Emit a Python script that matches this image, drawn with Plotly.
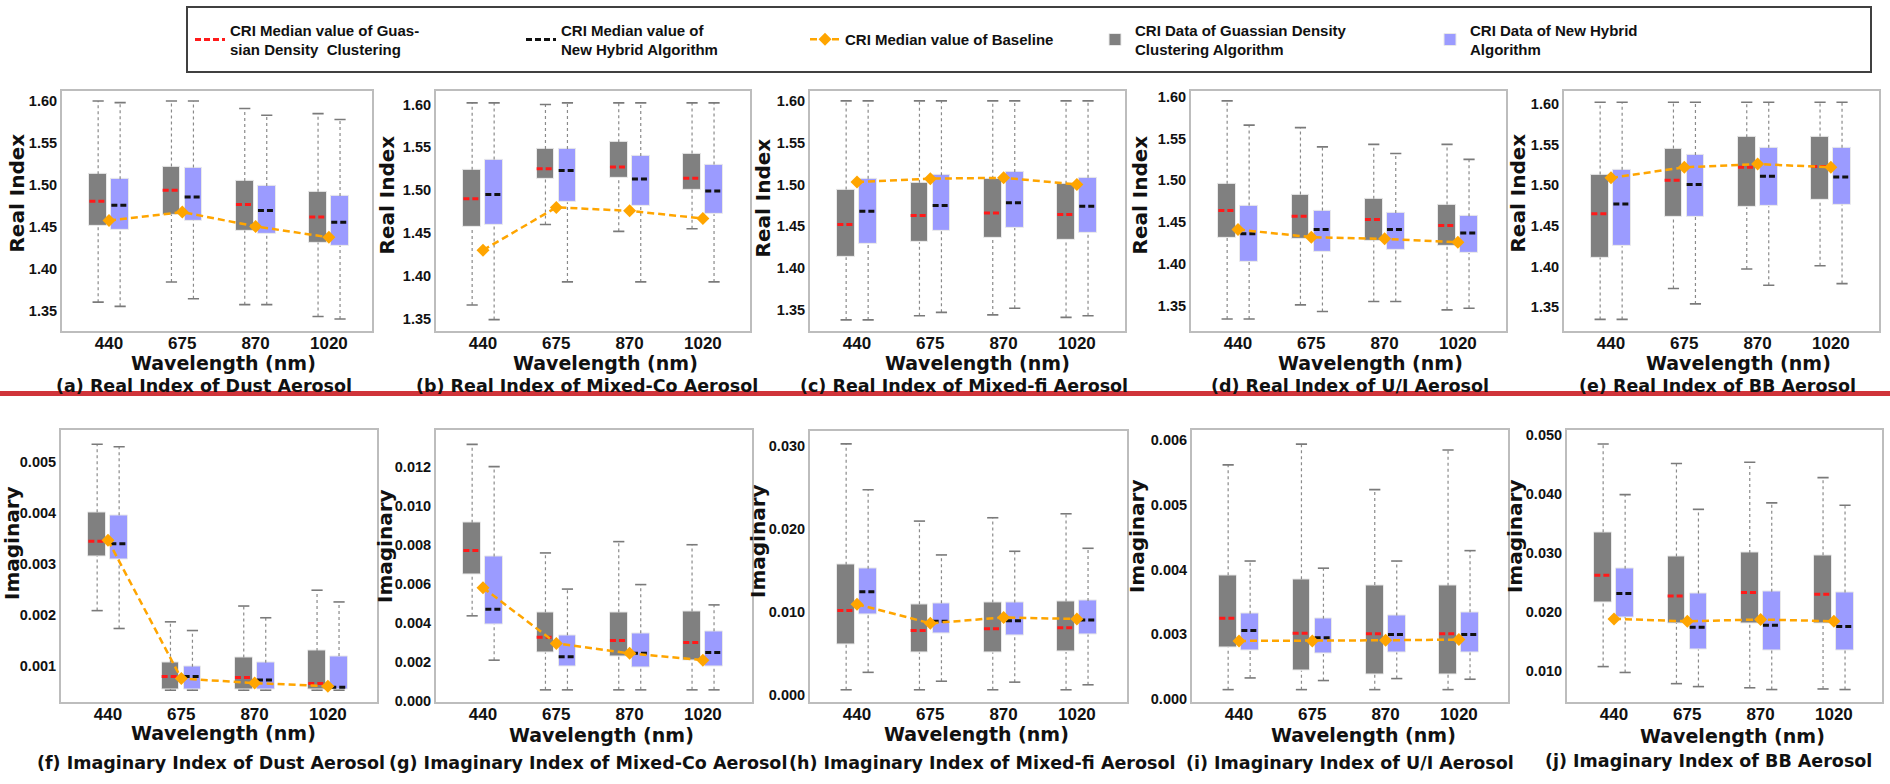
import plotly.graph_objects as go

W, H = 1890, 784

wavelengths = ["440", "675", "870", "1020"]
cat_pos = [0, 1, 2, 3]

# ---------------- (a) Real Index, Dust ----------------
a_gdc_lo  = [1.361, 1.385, 1.358, 1.344]
a_gdc_q1  = [1.452, 1.465, 1.446, 1.432]
a_gdc_med = [1.481, 1.494, 1.477, 1.462]
a_gdc_q3  = [1.513, 1.522, 1.505, 1.492]
a_gdc_hi  = [1.600, 1.600, 1.591, 1.585]
a_hyb_lo  = [1.356, 1.365, 1.358, 1.341]
a_hyb_q1  = [1.447, 1.458, 1.442, 1.428]
a_hyb_med = [1.476, 1.486, 1.470, 1.456]
a_hyb_q3  = [1.507, 1.521, 1.499, 1.487]
a_hyb_hi  = [1.598, 1.600, 1.583, 1.578]
a_base    = [1.458, 1.468, 1.451, 1.438]

# ---------------- (b) Real Index, Mixed-Co ----------------
b_gdc_lo  = [1.366, 1.460, 1.452, 1.455]
b_gdc_q1  = [1.457, 1.513, 1.514, 1.501]
b_gdc_med = [1.490, 1.525, 1.527, 1.514]
b_gdc_q3  = [1.524, 1.548, 1.556, 1.543]
b_gdc_hi  = [1.602, 1.600, 1.602, 1.602]
b_hyb_lo  = [1.349, 1.393, 1.393, 1.393]
b_hyb_q1  = [1.460, 1.486, 1.482, 1.472]
b_hyb_med = [1.495, 1.523, 1.513, 1.499]
b_hyb_q3  = [1.536, 1.548, 1.540, 1.530]
b_hyb_hi  = [1.602, 1.602, 1.602, 1.602]
b_base    = [1.430, 1.480, 1.476, 1.467]

# ---------------- (c) Real Index, Mixed-fi ----------------
c_gdc_lo  = [1.338, 1.343, 1.344, 1.341]
c_gdc_q1  = [1.413, 1.431, 1.436, 1.434]
c_gdc_med = [1.452, 1.463, 1.466, 1.464]
c_gdc_q3  = [1.494, 1.502, 1.507, 1.501]
c_gdc_hi  = [1.600, 1.600, 1.600, 1.600]
c_hyb_lo  = [1.338, 1.347, 1.352, 1.343]
c_hyb_q1  = [1.429, 1.445, 1.448, 1.442]
c_hyb_med = [1.468, 1.475, 1.478, 1.474]
c_hyb_q3  = [1.507, 1.511, 1.515, 1.508]
c_hyb_hi  = [1.600, 1.600, 1.600, 1.600]
c_base    = [1.503, 1.507, 1.508, 1.500]

# ---------------- (d) Real Index, U/I ----------------
d_gdc_lo  = [1.334, 1.351, 1.355, 1.345]
d_gdc_q1  = [1.431, 1.430, 1.428, 1.421]
d_gdc_med = [1.464, 1.457, 1.453, 1.446]
d_gdc_q3  = [1.496, 1.483, 1.478, 1.471]
d_gdc_hi  = [1.595, 1.563, 1.543, 1.543]
d_hyb_lo  = [1.334, 1.343, 1.355, 1.347]
d_hyb_q1  = [1.403, 1.414, 1.417, 1.413]
d_hyb_med = [1.436, 1.441, 1.441, 1.437]
d_hyb_q3  = [1.470, 1.464, 1.461, 1.457]
d_hyb_hi  = [1.566, 1.540, 1.532, 1.525]
d_base    = [1.441, 1.432, 1.430, 1.426]

# ---------------- (e) Real Index, BB ----------------
e_gdc_lo  = [1.335, 1.373, 1.397, 1.401]
e_gdc_q1  = [1.411, 1.461, 1.473, 1.482]
e_gdc_med = [1.465, 1.506, 1.522, 1.523]
e_gdc_q3  = [1.513, 1.545, 1.559, 1.560]
e_gdc_hi  = [1.602, 1.602, 1.602, 1.602]
e_hyb_lo  = [1.335, 1.354, 1.377, 1.379]
e_hyb_q1  = [1.425, 1.461, 1.474, 1.476]
e_hyb_med = [1.477, 1.501, 1.511, 1.510]
e_hyb_q3  = [1.519, 1.537, 1.546, 1.546]
e_hyb_hi  = [1.602, 1.602, 1.602, 1.602]
e_base    = [1.509, 1.522, 1.526, 1.522]

# ---------------- (f) Imaginary Index, Dust ----------------
f_gdc_lo  = [0.00208, 0.00052, 0.00052, 0.00052]
f_gdc_q1  = [0.00315, 0.00054, 0.00053, 0.00053]
f_gdc_med = [0.00344, 0.00079, 0.00077, 0.00065]
f_gdc_q3  = [0.00401, 0.00106, 0.00116, 0.00129]
f_gdc_hi  = [0.00534, 0.00186, 0.00217, 0.00248]
f_hyb_lo  = [0.00173, 0.00052, 0.00052, 0.00052]
f_hyb_q1  = [0.00308, 0.00053, 0.00053, 0.00053]
f_hyb_med = [0.00339, 0.00079, 0.00072, 0.00058]
f_hyb_q3  = [0.00395, 0.00098, 0.00106, 0.00119]
f_hyb_hi  = [0.00529, 0.00169, 0.00194, 0.00225]
f_base    = [0.00346, 0.00075, 0.00066, 0.00060]

# ---------------- (g) Imaginary Index, Mixed-Co ----------------
g_gdc_lo  = [0.00436, 0.00057, 0.00057, 0.00057]
g_gdc_q1  = [0.00649, 0.00248, 0.00226, 0.00206]
g_gdc_med = [0.00770, 0.00327, 0.00310, 0.00300]
g_gdc_q3  = [0.00913, 0.00455, 0.00455, 0.00458]
g_gdc_hi  = [0.01314, 0.00758, 0.00816, 0.00800]
g_hyb_lo  = [0.00209, 0.00057, 0.00057, 0.00057]
g_hyb_q1  = [0.00394, 0.00177, 0.00172, 0.00179]
g_hyb_med = [0.00470, 0.00226, 0.00244, 0.00248]
g_hyb_q3  = [0.00740, 0.00337, 0.00347, 0.00357]
g_hyb_hi  = [0.01200, 0.00573, 0.00596, 0.00492]
g_base    = [0.00580, 0.00295, 0.00244, 0.00209]

# ---------------- (h) Imaginary Index, Mixed-fi ----------------
h_gdc_lo  = [0.00067, 0.00067, 0.00067, 0.00067]
h_gdc_q1  = [0.00614, 0.00515, 0.00515, 0.00523]
h_gdc_med = [0.01023, 0.00781, 0.00801, 0.00813]
h_gdc_q3  = [0.01574, 0.01098, 0.01118, 0.01130]
h_gdc_hi  = [0.03030, 0.02100, 0.02140, 0.02188]
h_hyb_lo  = [0.00277, 0.00170, 0.00159, 0.00127]
h_hyb_q1  = [0.00979, 0.00741, 0.00725, 0.00733]
h_hyb_med = [0.01248, 0.00892, 0.00900, 0.00908]
h_hyb_q3  = [0.01526, 0.01110, 0.01118, 0.01138]
h_hyb_hi  = [0.02477, 0.01692, 0.01736, 0.01772]
h_base    = [0.01098, 0.00868, 0.00939, 0.00920]

# ---------------- (i) Imaginary Index, U/I ----------------
i_gdc_lo  = [0.00215, 0.00215, 0.00215, 0.00215]
i_gdc_q1  = [0.00280, 0.00244, 0.00238, 0.00238]
i_gdc_med = [0.00325, 0.00302, 0.00301, 0.00301]
i_gdc_q3  = [0.00391, 0.00385, 0.00376, 0.00375]
i_gdc_hi  = [0.00561, 0.00593, 0.00523, 0.00584]
i_hyb_lo  = [0.00233, 0.00229, 0.00232, 0.00231]
i_hyb_q1  = [0.00276, 0.00270, 0.00272, 0.00272]
i_hyb_med = [0.00306, 0.00295, 0.00300, 0.00300]
i_hyb_q3  = [0.00332, 0.00324, 0.00329, 0.00334]
i_hyb_hi  = [0.00413, 0.00402, 0.00413, 0.00429]
i_base    = [0.00290, 0.00290, 0.00291, 0.00292]

# ---------------- (j) Imaginary Index, BB ----------------
j_gdc_lo  = [0.0107, 0.0078, 0.0071, 0.0069]
j_gdc_q1  = [0.0216, 0.0181, 0.0181, 0.0181]
j_gdc_med = [0.0262, 0.0227, 0.0233, 0.0230]
j_gdc_q3  = [0.0335, 0.0294, 0.0300, 0.0296]
j_gdc_hi  = [0.0485, 0.0452, 0.0454, 0.0428]
j_hyb_lo  = [0.0097, 0.0073, 0.0068, 0.0068]
j_hyb_q1  = [0.0191, 0.0136, 0.0135, 0.0135]
j_hyb_med = [0.0231, 0.0174, 0.0177, 0.0175]
j_hyb_q3  = [0.0273, 0.0231, 0.0234, 0.0233]
j_hyb_hi  = [0.0399, 0.0374, 0.0385, 0.0381]
j_base    = [0.0188, 0.0184, 0.0187, 0.0184]

# tick labels
real_ticks = [1.35, 1.40, 1.45, 1.50, 1.55, 1.60]
f_ticks = [0.001, 0.002, 0.003, 0.004, 0.005]
g_ticks = [0.000, 0.002, 0.004, 0.006, 0.008, 0.010, 0.012]
h_ticks = [0.000, 0.010, 0.020, 0.030]
i_tickvals = [0.002, 0.003, 0.004, 0.005, 0.006]
i_ticktext = ["0.000", "0.003", "0.004", "0.005", "0.006"]
j_ticks = [0.010, 0.020, 0.030, 0.040, 0.050]

captions = [
    "(a) Real Index of Dust Aerosol", "(b) Real Index of Mixed-Co Aerosol",
    "(c) Real Index of Mixed-fi Aerosol", "(d) Real Index of U/I Aerosol",
    "(e) Real Index of BB Aerosol",
    "(f) Imaginary Index of Dust Aerosol", "(g) Imaginary Index of Mixed-Co Aerosol",
    "(h) Imaginary Index of Mixed-fi Aerosol", "(i) Imaginary Index of U/I Aerosol",
    "(j) Imaginary Index of BB Aerosol",
]

legend_names = [
    "CRI Median value of Guas-<br>sian Density  Clustering",
    "CRI Median value of<br>New Hybrid Algorithm",
    "CRI Median value of Baseline",
    "CRI Data of Guassian Density<br>Clustering Algorithm",
    "CRI Data of New Hybrid<br>Algorithm",
]

# ---------------- layout geometry (pixels) ----------------
def S(lo, q1, med, q3, hi):
    return dict(lo=lo, q1=q1, med=med, q3=q3, hi=hi)

panels = [
    dict(gdc=S(a_gdc_lo, a_gdc_q1, a_gdc_med, a_gdc_q3, a_gdc_hi), hyb=S(a_hyb_lo, a_hyb_q1, a_hyb_med, a_hyb_q3, a_hyb_hi), base=a_base,
         xpx=(62, 372), ypx=(89, 332), yr=(1.327, 1.612), tv=real_ticks, tt=None, fmt=".2f", yt="Real Index",
         ytp=(17, 193), xtp=(223, 365), cap=(204, 388)),
    dict(gdc=S(b_gdc_lo, b_gdc_q1, b_gdc_med, b_gdc_q3, b_gdc_hi), hyb=S(b_hyb_lo, b_hyb_q1, b_hyb_med, b_hyb_q3, b_hyb_hi), base=b_base,
         xpx=(436, 750), ypx=(89, 332), yr=(1.336, 1.616), tv=real_ticks, tt=None, fmt=".2f", yt="Real Index",
         ytp=(387, 195), xtp=(605, 365), cap=(587, 388)),
    dict(gdc=S(c_gdc_lo, c_gdc_q1, c_gdc_med, c_gdc_q3, c_gdc_hi), hyb=S(c_hyb_lo, c_hyb_q1, c_hyb_med, c_hyb_q3, c_hyb_hi), base=c_base,
         xpx=(810, 1125), ypx=(89, 332), yr=(1.325, 1.612), tv=real_ticks, tt=None, fmt=".2f", yt="Real Index",
         ytp=(763, 198), xtp=(977, 365), cap=(964, 388)),
    dict(gdc=S(d_gdc_lo, d_gdc_q1, d_gdc_med, d_gdc_q3, d_gdc_hi), hyb=S(d_hyb_lo, d_hyb_q1, d_hyb_med, d_hyb_q3, d_hyb_hi), base=d_base,
         xpx=(1191, 1506), ypx=(89, 332), yr=(1.320, 1.607), tv=real_ticks, tt=None, fmt=".2f", yt="Real Index",
         ytp=(1140, 195), xtp=(1370, 365), cap=(1350, 388)),
    dict(gdc=S(e_gdc_lo, e_gdc_q1, e_gdc_med, e_gdc_q3, e_gdc_hi), hyb=S(e_hyb_lo, e_hyb_q1, e_hyb_med, e_hyb_q3, e_hyb_hi), base=e_base,
         xpx=(1564, 1879), ypx=(89, 332), yr=(1.321, 1.616), tv=real_ticks, tt=None, fmt=".2f", yt="Real Index",
         ytp=(1518, 193), xtp=(1738, 365), cap=(1717, 388)),
    dict(gdc=S(f_gdc_lo, f_gdc_q1, f_gdc_med, f_gdc_q3, f_gdc_hi), hyb=S(f_hyb_lo, f_hyb_q1, f_hyb_med, f_hyb_q3, f_hyb_hi), base=f_base,
         xpx=(61, 377), ypx=(433, 708), yr=(0.00029, 0.00561), tv=f_ticks, tt=None, fmt=".3f", yt="Imaginary",
         ytp=(12, 547), xtp=(223, 739), cap=(211, 770)),
    dict(gdc=S(g_gdc_lo, g_gdc_q1, g_gdc_med, g_gdc_q3, g_gdc_hi), hyb=S(g_hyb_lo, g_hyb_q1, g_hyb_med, g_hyb_q3, g_hyb_hi), base=g_base,
         xpx=(436, 752), ypx=(433, 708), yr=(-0.00005, 0.01385), tv=g_ticks, tt=None, fmt=".3f", yt="Imaginary",
         ytp=(385, 550), xtp=(601, 741), cap=(588, 770)),
    dict(gdc=S(h_gdc_lo, h_gdc_q1, h_gdc_med, h_gdc_q3, h_gdc_hi), hyb=S(h_hyb_lo, h_hyb_q1, h_hyb_med, h_hyb_q3, h_hyb_hi), base=h_base,
         xpx=(810, 1127), ypx=(434, 708), yr=(-0.0008, 0.0318), tv=h_ticks, tt=None, fmt=".3f", yt="Imaginary",
         ytp=(758, 545), xtp=(976, 740), cap=(982, 770)),
    dict(gdc=S(i_gdc_lo, i_gdc_q1, i_gdc_med, i_gdc_q3, i_gdc_hi), hyb=S(i_hyb_lo, i_hyb_q1, i_hyb_med, i_hyb_q3, i_hyb_hi), base=i_base,
         xpx=(1192, 1508), ypx=(433, 708), yr=(0.00196, 0.00614), tv=i_tickvals, tt=i_ticktext, fmt=".3f", yt="Imaginary",
         ytp=(1137, 540), xtp=(1363, 741), cap=(1350, 770)),
    dict(gdc=S(j_gdc_lo, j_gdc_q1, j_gdc_med, j_gdc_q3, j_gdc_hi), hyb=S(j_hyb_lo, j_hyb_q1, j_hyb_med, j_hyb_q3, j_hyb_hi), base=j_base,
         xpx=(1567, 1882), ypx=(433, 708), yr=(0.00469, 0.0508), tv=j_ticks, tt=None, fmt=".3f", yt="Imaginary",
         ytp=(1515, 540), xtp=(1732, 742), cap=(1708, 768)),
]

PX_PER_CAT = 73.3
FIRST_CAT_PX = 47
GDC_OFF, HYB_OFF, BOX_W = -0.148, 0.152, 0.24

GRAY = "#808080"
BLUE = "#9b9bff"
RED = "#ff1a1a"
BLACK = "#111111"
ORANGE = "#FFA500"
WHISKER = "#8a8a8a"

TICKY_FONT = dict(family="Liberation Sans Narrow, Arial Narrow, Liberation Sans, Arial", size=14.5, color="#111", weight="bold")
TICKX_FONT = dict(family="Liberation Sans, Arial", size=17, color="#111", weight="bold")
TITLE_FONT = dict(family="DejaVu Sans", size=20, color="#111", weight="bold")
CAP_FONT = dict(family="DejaVu Sans", size=17.5, color="#111", weight="bold")
LEG_FONT = dict(family="Liberation Sans Narrow, Arial Narrow, Liberation Sans, Arial", size=15, color="#111", weight="bold")


def whisker_xy(xpos, st):
    xs, ys = [], []
    for x, lo, q1, q3, hi in zip(xpos, st["lo"], st["q1"], st["q3"], st["hi"]):
        xs += [x, x, None, x, x, None]
        ys += [lo, q1, None, q3, hi, None]
    return xs, ys


def median_xy(xpos, med, w):
    xs, ys = [], []
    for x, m in zip(xpos, med):
        xs += [x - w / 2, x + w / 2, None]
        ys += [m, m, None]
    return xs, ys


fig = go.Figure()
axes = {}
annotations = []

for k, p in enumerate(panels):
    n = "" if k == 0 else str(k + 1)
    xa, ya = "x" + n, "y" + n
    left, right = p["xpx"]
    top, bottom = p["ypx"]
    x0 = -FIRST_CAT_PX / PX_PER_CAT
    x1 = x0 + (right - left) / PX_PER_CAT
    axes["xaxis" + n] = dict(
        domain=[left / W, right / W], range=[x0, x1], anchor=ya,
        tickmode="array", tickvals=cat_pos, ticktext=wavelengths, tickfont=TICKX_FONT,
        ticklabelstandoff=-4,
        showline=True, mirror=True, linecolor="#bdbdbd", linewidth=2,
        showgrid=False, zeroline=False, ticks="", fixedrange=True,
    )
    yax = dict(
        domain=[1 - bottom / H, 1 - top / H], range=list(p["yr"]), anchor=xa,
        tickmode="array", tickvals=p["tv"], tickfont=TICKY_FONT, tickformat=p["fmt"],
        showline=True, mirror=True, linecolor="#bdbdbd", linewidth=2,
        showgrid=False, zeroline=False, ticks="", fixedrange=True,
    )
    if p["tt"] is not None:
        yax["ticktext"] = p["tt"]
    axes["yaxis" + n] = yax

    first = k == 0
    for st, off, color, mcolor, leg_bar, leg_med, nm_bar, nm_med in [
        (p["gdc"], GDC_OFF, GRAY, RED, "legend4", "legend", legend_names[3], legend_names[0]),
        (p["hyb"], HYB_OFF, BLUE, BLACK, "legend5", "legend2", legend_names[4], legend_names[1]),
    ]:
        xpos = [c + off for c in cat_pos]
        wx, wy = whisker_xy(xpos, st)
        fig.add_trace(go.Scatter(x=wx, y=wy, mode="lines", xaxis=xa, yaxis=ya,
                                 line=dict(color=WHISKER, width=1.2, dash="dot"),
                                 showlegend=False, hoverinfo="skip"))
        fig.add_trace(go.Scatter(x=xpos + xpos, y=st["lo"] + st["hi"], mode="markers", xaxis=xa, yaxis=ya,
                                 marker=dict(symbol="line-ew", size=8, line=dict(color="#7a7a7a", width=1.6)),
                                 showlegend=False, hoverinfo="skip"))
        fig.add_trace(go.Bar(x=xpos, y=[b - a for a, b in zip(st["q1"], st["q3"])], base=st["q1"],
                             width=BOX_W, xaxis=xa, yaxis=ya, name=nm_bar,
                             marker=dict(color=color, line=dict(color="#e9e9e9", width=1)),
                             showlegend=first, legend=leg_bar))
        mx, my = median_xy(xpos, st["med"], BOX_W)
        fig.add_trace(go.Scatter(x=mx, y=my, mode="lines", xaxis=xa, yaxis=ya, name=nm_med,
                                 line=dict(color=mcolor, width=3, dash="6px,3px"),
                                 showlegend=first, legend=leg_med))
    fig.add_trace(go.Scatter(x=cat_pos, y=p["base"], mode="lines+markers", xaxis=xa, yaxis=ya,
                             name=legend_names[2],
                             line=dict(color=ORANGE, width=2.5, dash="7px,4px"),
                             marker=dict(symbol="diamond", size=10, color=ORANGE),
                             showlegend=first, legend="legend3"))

    annotations.append(dict(text=p["yt"], x=p["ytp"][0] / W, y=1 - p["ytp"][1] / H, xref="paper", yref="paper",
                            textangle=-90, showarrow=False, font=TITLE_FONT, xanchor="center", yanchor="middle"))
    annotations.append(dict(text="Wavelength (nm)", x=p["xtp"][0] / W, y=1 - p["xtp"][1] / H, xref="paper", yref="paper",
                            showarrow=False, font=dict(TITLE_FONT, size=19), xanchor="center", yanchor="middle"))
    annotations.append(dict(text=captions[k], x=p["cap"][0] / W, y=1 - p["cap"][1] / H, xref="paper", yref="paper",
                            showarrow=False, font=CAP_FONT, xanchor="center", yanchor="middle"))

# legends (one per item, laid out in a single boxed row)
leg_x = [190, 521, 805, 1095, 1430]
legends = {}
for idx, lx in enumerate(leg_x):
    key = "legend" if idx == 0 else "legend%d" % (idx + 1)
    legends[key] = dict(x=lx / W, y=1 - 37 / H, xanchor="left", yanchor="middle",
                        orientation="h", bgcolor="rgba(0,0,0,0)", borderwidth=0,
                        font=LEG_FONT, valign="middle")

shapes = [
    dict(type="rect", xref="paper", yref="paper", x0=187 / W, x1=1871 / W, y0=1 - 70 / H, y1=1 - 4 / H,
         line=dict(color="#404040", width=2), fillcolor="rgba(0,0,0,0)"),
    dict(type="rect", xref="paper", yref="paper", x0=0, x1=1, y0=1 - 398 / H, y1=1 - 393 / H,
         line=dict(width=0), fillcolor="#d0343a", layer="above"),
]

fig.update_layout(
    width=W, height=H, margin=dict(l=0, r=0, t=0, b=0),
    paper_bgcolor="white", plot_bgcolor="white",
    barmode="overlay", bargap=0,
    annotations=annotations, shapes=shapes,
    **axes, **legends,
)

fig.write_html("out.html")
